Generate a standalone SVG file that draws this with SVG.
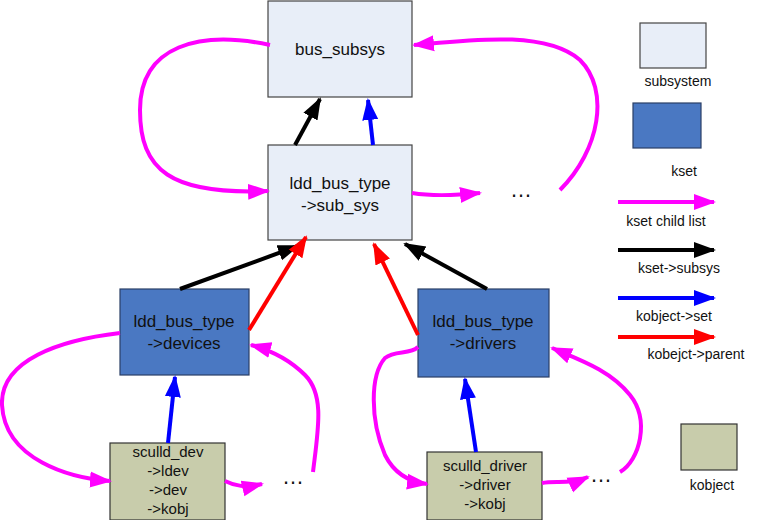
<svg xmlns="http://www.w3.org/2000/svg" width="764" height="520" viewBox="0 0 764 520">
<style>
text{font-family:"Liberation Sans",Arial,sans-serif;fill:#111;text-anchor:middle}
.t{font-size:17px}.s{font-size:15px}.l{font-size:14px}.d{font-size:22px}
.sub{fill:#e8eef8;stroke:#444;stroke-width:1.2}
.kset{fill:#4a78c2;stroke:#2a3f66;stroke-width:1.2}
.kobj{fill:#c8ccab;stroke:#333;stroke-width:1.2}
.c{fill:none;stroke-width:4}
.p{stroke:#ff00ff;marker-end:url(#mp)}.k{stroke:#000;marker-end:url(#mk)}
.b{stroke:#0000ff;marker-end:url(#mb)}.r{stroke:#ff0000;marker-end:url(#mr)}
</style>
<defs>
<marker id="mp" markerUnits="userSpaceOnUse" markerWidth="24" markerHeight="20" refX="20" refY="10" orient="auto"><path d="M0,2 L22,10 L0,18 Z" fill="#ff00ff"/></marker>
<marker id="mk" markerUnits="userSpaceOnUse" markerWidth="24" markerHeight="20" refX="20" refY="10" orient="auto"><path d="M0,2 L22,10 L0,18 Z" fill="#000"/></marker>
<marker id="mb" markerUnits="userSpaceOnUse" markerWidth="24" markerHeight="20" refX="20" refY="10" orient="auto"><path d="M0,2 L22,10 L0,18 Z" fill="#0000ff"/></marker>
<marker id="mr" markerUnits="userSpaceOnUse" markerWidth="24" markerHeight="20" refX="20" refY="10" orient="auto"><path d="M0,2 L22,10 L0,18 Z" fill="#ff0000"/></marker>
</defs>
<rect width="764" height="520" fill="#fff"/>
<g id="bus_subsys"><rect class="sub" x="268" y="1" width="144" height="96"/><text class="t" x="340" y="55">bus_subsys</text></g>
<g id="sub_sys"><rect class="sub" x="268" y="145" width="144" height="95"/><text class="t" x="340" y="189">ldd_bus_type</text><text class="t" x="340" y="211">-&gt;sub_sys</text></g>
<g id="devices"><rect class="kset" x="120" y="289" width="129" height="86"/><text class="t" x="184" y="327">ldd_bus_type</text><text class="t" x="184" y="349">-&gt;devices</text></g>
<g id="drivers"><rect class="kset" x="418" y="289" width="131" height="88"/><text class="t" x="483" y="327">ldd_bus_type</text><text class="t" x="483" y="349">-&gt;drivers</text></g>
<g id="sculld_dev"><rect class="kobj" x="110" y="443" width="115" height="77"/><text class="s" x="168" y="457">sculld_dev</text><text class="s" x="168" y="476">-&gt;ldev</text><text class="s" x="168" y="495">-&gt;dev</text><text class="s" x="168" y="514">-&gt;kobj</text></g>
<g id="sculld_driver"><rect class="kobj" x="427" y="452" width="115" height="68"/><text class="s" x="485" y="471">sculld_driver</text><text class="s" x="485" y="490">-&gt;driver</text><text class="s" x="485" y="509">-&gt;kobj</text></g>
<g id="dots"><text class="d" x="521" y="197">…</text><text class="d" x="293" y="484">…</text><text class="d" x="601" y="482">…</text></g>
<g id="connectors">
<path class="c k" d="M295,145 L320,99"/>
<path class="c b" d="M373,145 L368,100"/>
<path class="c k" d="M180,289 L298,246"/>
<path class="c r" d="M249,330 L306,237"/>
<path class="c r" d="M418,335 L374,244"/>
<path class="c k" d="M487,289 L405,244"/>
<path class="c b" d="M168,443 L175,377"/>
<path class="c b" d="M476,452 L465,379"/>
<path class="c p" d="M270,45 C200,30 140,45 140,110 C140,170 170,195 268,191"/>
<path class="c p" d="M412,193 C430,196 450,196 480,193"/>
<path class="c p" d="M560,190 C600,150 610,90 580,60 C545,30 470,40 414,45"/>
<path class="c p" d="M120,333 C60,340 0,360 2,405 C5,460 70,478 110,481"/>
<path class="c p" d="M225,481 C235,486 245,488 262,484"/>
<path class="c p" d="M313,472 C318,430 325,395 305,375 C290,360 270,350 251,345"/>
<path class="c p" d="M418,347 C410,355 395,350 385,358 C370,375 370,420 385,455 C395,475 410,482 427,484"/>
<path class="c p" d="M542,483 C555,480 570,485 588,477"/>
<path class="c p" d="M620,472 C640,460 650,420 630,395 C610,370 580,360 552,348"/>
</g>
<g id="legend">
<rect class="sub" x="640" y="23" width="66" height="45"/><text class="l" x="678" y="86">subsystem</text>
<rect class="kset" x="633" y="103" width="68" height="45"/><text class="l" x="684" y="176">kset</text>
<path class="c p" d="M618,202 L714,202"/><text class="l" x="666" y="226">kset child list</text>
<path class="c k" d="M618,250 L714,250"/><text class="l" x="679" y="273">kset-&gt;subsys</text>
<path class="c b" d="M618,298 L714,298"/><text class="l" x="674" y="321">kobject-&gt;set</text>
<path class="c r" d="M618,337 L714,337"/><text class="l" x="696" y="359">kobejct-&gt;parent</text>
<rect class="kobj" x="681" y="424" width="56" height="46"/><text class="l" x="712" y="490">kobject</text>
</g>
</svg>
